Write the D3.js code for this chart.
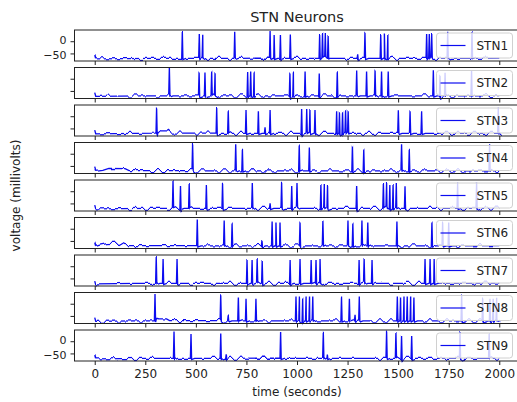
<!DOCTYPE html>
<html>
<head>
<meta charset="utf-8">
<script src="https://cdn.jsdelivr.net/npm/d3@7"></script>
<style>
  body { margin: 0; background: #fff; }
  text { font-family: "DejaVu Sans", sans-serif; fill: #222; }
</style>
</head>
<body>
<div id="chart"></div>
<script>
const names = ["STN1", "STN2", "STN3", "STN4", "STN5", "STN6", "STN7", "STN8", "STN9"];
const xTicks = [0, 250, 500, 750, 1000, 1250, 1500, 1750, 2000];
const yTicks = [0, -50];

// spike times and the peak voltage of each spike
const stn1Spikes = [433, 517, 534, 692, 867, 887, 918, 967, 1112, 1126, 1140, 1154, 1300, 1336, 1414, 1432, 1449, 1641, 1654, 1666, 1745, 1865];
const stn1Peaks  = [42, 30, 22, 35, 38, 25, 30, 28, 30, 30, 25, 25, -50, 35, 30, 32, 30, 30, 30, 30, 35, 38];
const stn2Spikes = [369, 516, 545, 578, 595, 756, 771, 788, 965, 982, 1040, 1110, 1199, 1295, 1344, 1386, 1418, 1451, 1674, 1707, 1732, 1863];
const stn2Peaks  = [40, 25, 25, 25, 22, 32, 30, 30, 30, 30, 30, 25, 35, 30, 30, 30, 30, 30, 35, 20, 20, 35];
const stn3Spikes = [306, 603, 660, 748, 809, 842, 867, 1023, 1048, 1064, 1089, 1196, 1210, 1225, 1240, 1253, 1501, 1559, 1616, 1995];
const stn3Peaks  = [40, 38, 20, 25, 20, -45, 25, 38, 25, 25, 25, 20, 20, 20, 20, 20, 20, 20, 20, 35];
const stn4Spikes = [484, 697, 730, 1011, 1061, 1274, 1330, 1517, 1555, 1952];
const stn4Peaks  = [38, 35, 20, 38, 25, 38, 25, 35, 20, 35];
const stn5Spikes = [387, 424, 467, 552, 632, 779, 867, 924, 974, 1000, 1118, 1135, 1151, 1295, 1427, 1443, 1459, 1475, 1491, 1534, 1794, 1888];
const stn5Peaks  = [38, 30, 30, 25, 35, 30, -50, 35, 25, 25, 30, 25, 25, 30, 30, 30, 30, 30, 30, 20, 35, 35];
const stn6Spikes = [507, 640, 679, 827, 877, 896, 916, 1015, 1128, 1252, 1276, 1321, 1350, 1494, 1667, 1720, 1750];
const stn6Peaks  = [38, 30, 25, -45, 30, 25, 25, 30, 30, 30, 25, 30, 25, 30, 30, 25, 25];
const stn7Spikes = [304, 338, 407, 753, 778, 803, 828, 966, 1015, 1070, 1094, 1114, 1307, 1332, 1371, 1633, 1658, 1678];
const stn7Peaks  = [38, 30, 30, 30, 25, 25, 25, 30, 30, 25, 25, 25, 30, 25, 25, 30, 30, 30];
const stn8Spikes = [298, 623, 660, 710, 748, 797, 995, 1012, 1028, 1045, 1062, 1078, 1220, 1259, 1287, 1308, 1496, 1512, 1529, 1545, 1562, 1578, 1814, 1918, 1954, 1970, 1987];
const stn8Peaks  = [40, 35, -48, 25, 20, 20, 30, 30, 30, 30, 30, 25, 30, 20, -45, 25, 30, 30, 30, 30, 30, 25, 38, 25, 20, 20, 20];
const stn9Spikes = [392, 476, 623, 650, 919, 1130, 1150, 1443, 1489, 1517, 1567, 1806, 1950];
const stn9Peaks  = [40, 30, 32, -50, 38, 35, -55, 40, 30, 30, 25, 38, 30];

// resting level, as [time, mV] knots
const flatRest = [[0, -69], [2000, -69]];
const stn3Rest = [[0, -69], [300, -69], [312, -58], [360, -60], [375, -69], [2000, -69]];
const stn4Rest = [[0, -69], [40, -68], [70, -60], [150, -61], [170, -69], [2000, -69]];
const stn6Rest = [[0, -69], [25, -67], [60, -61], [120, -59], [150, -69], [2000, -69]];
const stn8Rest = [[0, -69], [295, -69], [305, -60], [355, -62], [370, -69], [2000, -69]];

const spikes = [stn1Spikes, stn2Spikes, stn3Spikes, stn4Spikes, stn5Spikes, stn6Spikes, stn7Spikes, stn8Spikes, stn9Spikes];
const peaks  = [stn1Peaks, stn2Peaks, stn3Peaks, stn4Peaks, stn5Peaks, stn6Peaks, stn7Peaks, stn8Peaks, stn9Peaks];
const rests  = [flatRest, flatRest, stn3Rest, stn4Rest, flatRest, stn6Rest, flatRest, stn8Rest, flatRest];

const width = 517, height = 402;
const left = 74.5, right = 519.5;
const panelTop = 30, panelStep = 37.5, panelH = 31;

const svg = d3.select("#chart")
  .append("svg")
  .attr("width", width)
  .attr("height", height);

const x = d3.scaleLinear().domain([-100, 2100]).range([left, right]);
const y = d3.scaleLinear().domain([-81, 46]).range([panelH, 0]);

// subthreshold ripple of the trace, as a rendering texture
const defs = svg.append("defs");
names.forEach((n, i) => {
  const f = defs.append("filter")
    .attr("id", "ripple" + i)
    .attr("filterUnits", "userSpaceOnUse")
    .attr("x", 0).attr("y", -10).attr("width", width).attr("height", 60)
    .attr("color-interpolation-filters", "sRGB");
  f.append("feTurbulence")
    .attr("type", "fractalNoise")
    .attr("baseFrequency", "0.18 0.001")
    .attr("numOctaves", 1)
    .attr("seed", i * 7 + 3)
    .attr("result", "noise");
  f.append("feColorMatrix")
    .attr("in", "noise")
    .attr("type", "matrix")
    .attr("values", "0 0 0 0 0.5  0 1 0 0 0  0 0 0 0 0  0 0 0 0 1")
    .attr("result", "map");
  f.append("feDisplacementMap")
    .attr("in", "SourceGraphic")
    .attr("in2", "map")
    .attr("scale", 10)
    .attr("xChannelSelector", "R")
    .attr("yChannelSelector", "G");
});

function trace(sp, pk, rest) {
  const base = d3.scaleLinear()
    .domain(rest.map(d => d[0]))
    .range(rest.map(d => d[1]))
    .clamp(true);
  let pts = [[0, -57], [5, -72]];
  rest.forEach(d => { if (d[0] > 5) pts.push(d); });
  sp.forEach((t, j) => {
    pts.push([t - 3, base(t - 3)]);
    pts.push([t, pk[j]]);
    pts.push([t + 3, -75]);
    pts.push([t + 18, base(t + 18) - 1]);
  });
  pts.sort((a, b) => a[0] - b[0]);
  return pts;
}

const line = d3.line()
  .x(d => x(d[0]))
  .y(d => y(d[1]));

names.forEach((name, i) => {
  const g = svg.append("g")
    .attr("transform", `translate(0,${panelTop + i * panelStep})`);

  g.append("path")
    .datum(trace(spikes[i], peaks[i], rests[i]))
    .attr("d", line)
    .attr("fill", "none")
    .attr("stroke", "#0c0cf0")
    .attr("stroke-width", 1.35)
    .attr("filter", `url(#ripple${i})`);

  const last = i === names.length - 1;
  const showY = i === 0 || last;

  const xa = g.append("g")
    .attr("transform", `translate(0,${panelH})`)
    .call(d3.axisBottom(x).tickValues(xTicks).tickSize(4).tickPadding(4)
      .tickFormat(last ? d3.format("d") : ""));
  const ya = g.append("g")
    .attr("transform", `translate(${left},0)`)
    .call(d3.axisLeft(y).tickValues(yTicks).tickSize(4).tickPadding(4)
      .tickFormat(showY ? d3.format("d") : ""));
  [xa, ya].forEach(a => {
    a.select(".domain").remove();
    a.selectAll("line").attr("stroke", "#222");
    a.selectAll("text").attr("font-size", 12).attr("font-family", "DejaVu Sans").attr("fill", "#222");
  });
  // the two y labels sit close together: keep them from touching
  ya.selectAll("text")
    .attr("font-size", 11)
    .attr("dy", d => d === 0 ? "0.2em" : "0.45em");

  // spines
  g.append("rect")
    .attr("x", left).attr("y", 0)
    .attr("width", right - left).attr("height", panelH)
    .attr("fill", "none")
    .attr("stroke", "#222")
    .attr("stroke-width", 1);

  // legend
  const lg = g.append("g").attr("transform", `translate(436.5,${(panelH - 25) / 2})`);
  lg.append("rect")
    .attr("width", 76).attr("height", 25).attr("rx", 3)
    .attr("fill", "rgba(255,255,255,0.8)")
    .attr("stroke", "#d0d0d0");
  lg.append("line")
    .attr("x1", 4).attr("x2", 29).attr("y1", 12.5).attr("y2", 12.5)
    .attr("stroke", "#0c0cf0").attr("stroke-width", 1.2);
  lg.append("text")
    .attr("x", 40).attr("y", 12.5).attr("dy", "0.36em")
    .attr("font-size", 12)
    .text(name);
});

svg.append("text")
  .attr("x", (left + right) / 2).attr("y", 21.5)
  .attr("text-anchor", "middle")
  .attr("font-size", 14.5)
  .text("STN Neurons");

svg.append("text")
  .attr("x", (left + right) / 2).attr("y", 396)
  .attr("text-anchor", "middle")
  .attr("font-size", 12)
  .text("time (seconds)");

svg.append("text")
  .attr("transform", `translate(16,${panelTop + (8 * panelStep + panelH) / 2}) rotate(-90)`)
  .attr("text-anchor", "middle")
  .attr("dy", "0.36em")
  .attr("font-size", 12)
  .text("voltage (millivolts)");
</script>
</body>
</html>
